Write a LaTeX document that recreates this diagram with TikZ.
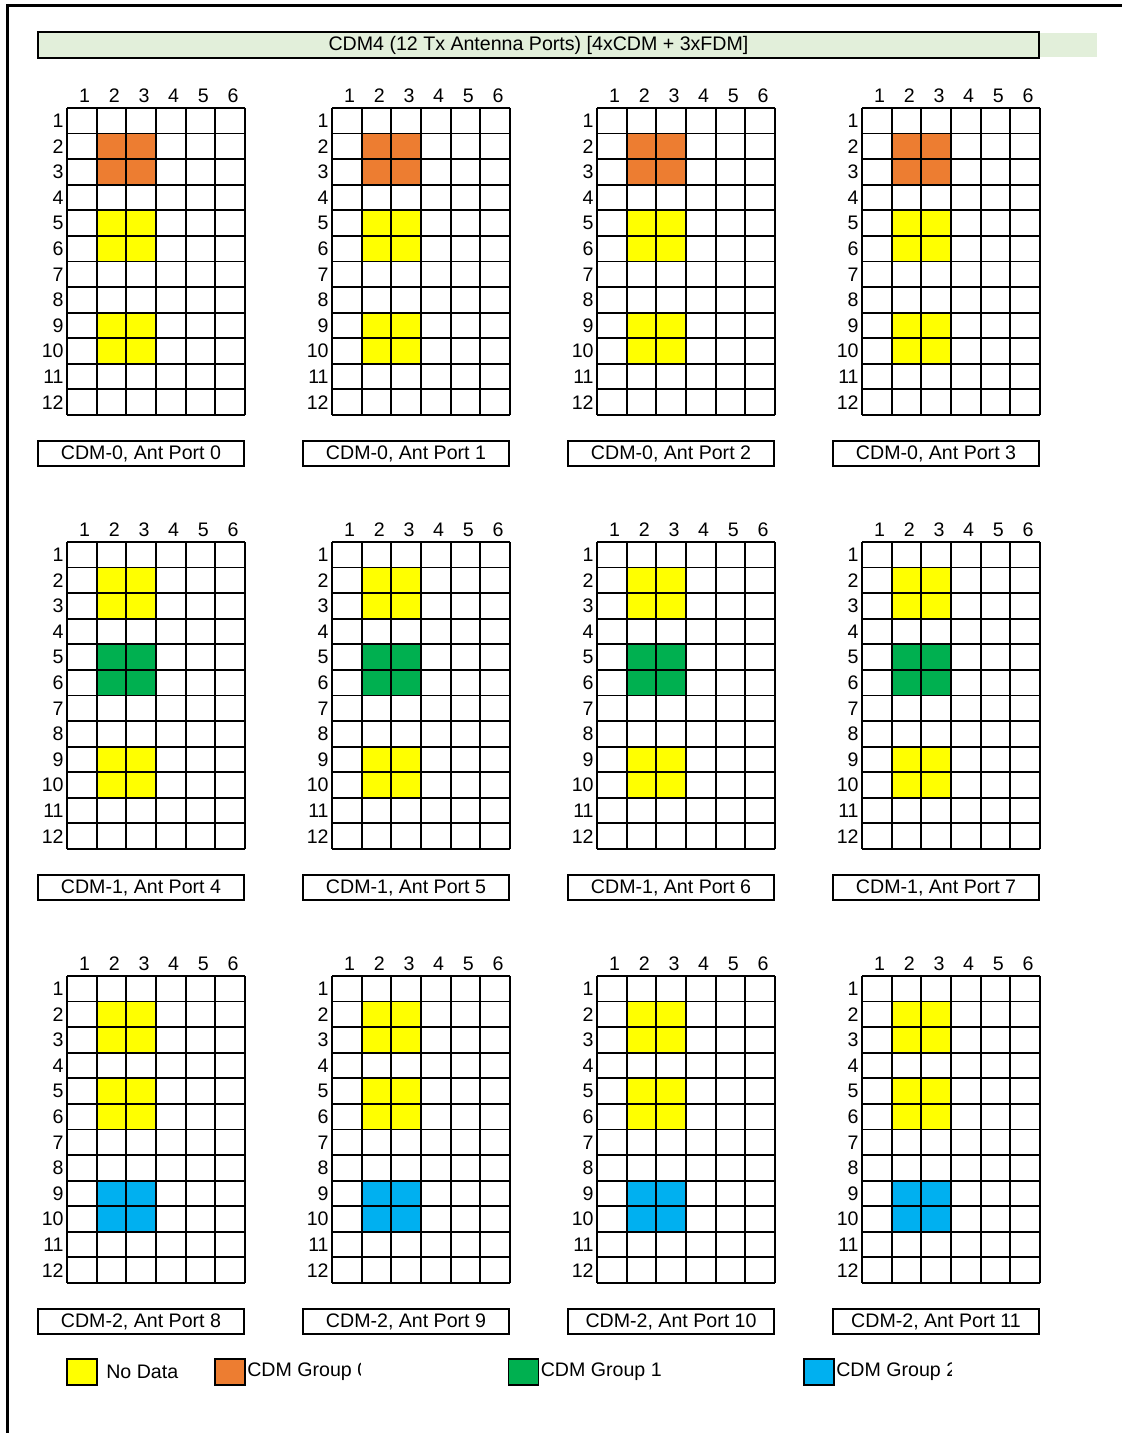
\documentclass[tikz,border=0pt]{standalone}
\usepackage{fontspec}
\setmainfont{Liberation Sans}
\usetikzlibrary{positioning}
\definecolor{tGreen}{HTML}{E2EFDA}
\definecolor{cOrange}{HTML}{ED7D31}
\definecolor{cYellow}{HTML}{FFFF00}
\definecolor{cGreen}{HTML}{00B050}
\definecolor{cBlue}{HTML}{00B0F0}

\begin{document}
\begin{tikzpicture}[x=0.5pt, y=-0.5pt,
    every node/.style={font=\fontsize{9.8}{12}\selectfont, inner sep=0pt},
    gridline/.style={line width=0.9pt},
    capbox/.style={draw, line width=0.9pt, minimum width=103pt, minimum height=12.5pt},
    keybox/.style={draw, line width=0.9pt, minimum width=15pt, minimum height=13pt}]
  \useasboundingbox (0,0) rectangle (1122,1433);
  % page frame
  \draw[line width=1.5pt] (7.5,1433) -- (7.5,5.5) -- (1122,5.5);

  % title bar
  \fill[tGreen] (1039,33) rectangle (1097,57);
  \node[draw, fill=tGreen, line width=0.9pt, minimum width=500.5pt, minimum height=13pt]
    (title) at (538.5,45) {CDM4 (12 Tx Antenna Ports) [4xCDM + 3xFDM]};

  % one row of panels per CDM group
  \foreach \gj/\ca/\cb/\cc in {0/cOrange/cYellow/cYellow, 1/cYellow/cGreen/cYellow, 2/cYellow/cYellow/cBlue} {
    \foreach \gi in {0,...,3} {
      \pgfmathsetmacro\xo{67+265*\gi}
      \pgfmathsetmacro\yo{108+434*\gj}
      \pgfmathtruncatemacro\port{4*\gj+\gi}
      \fill[\ca] (\xo+29.67,\yo+25.58) rectangle (\xo+89,\yo+76.75);
      \fill[\cb] (\xo+29.67,\yo+102.33) rectangle (\xo+89,\yo+153.5);
      \fill[\cc] (\xo+29.67,\yo+204.67) rectangle (\xo+89,\yo+255.83);
      \foreach \k in {0,...,6}
        \draw[gridline] (\xo+\k*29.67,\yo) -- (\xo+\k*29.67,\yo+307);
      \foreach \k in {0,...,12}
        \draw[gridline] (\xo,\yo+\k*25.58) -- (\xo+178,\yo+\k*25.58);
      \foreach \k in {1,...,6}
        \node at (\xo+\k*29.67-12,\yo-12) {\k};
      \foreach \k in {1,...,12}
        \node[anchor=east] at (\xo-3,\yo+\k*25.58-12.8) {\k};
      \node[capbox] (cap\port) at (\xo+74,\yo+345.5) {CDM-\gj, Ant Port \port};
    }
  }

  % legend
  \node[keybox, fill=cYellow] (keyNone) at (82,1372) {};
  \node[right=4pt of keyNone] (txtNone) {No Data};
  \node[keybox, fill=cOrange] (keyG0) at (230,1372) {};
  \node[keybox, fill=cGreen] (keyG1) at (523.5,1372) {};
  \node[keybox, fill=cBlue] (keyG2) at (819,1372) {};
  \begin{scope}
    \clip (245,1355) rectangle (360,1390);
    \node[right=0.5pt of keyG0] (txtG0) {CDM Group 0};
  \end{scope}
  \node[right=0.5pt of keyG1] (txtG1) {CDM Group 1};
  \begin{scope}
    \clip (834,1355) rectangle (951,1390);
    \node[right=0.5pt of keyG2] (txtG2) {CDM Group 2};
  \end{scope}
\end{tikzpicture}
\end{document}
